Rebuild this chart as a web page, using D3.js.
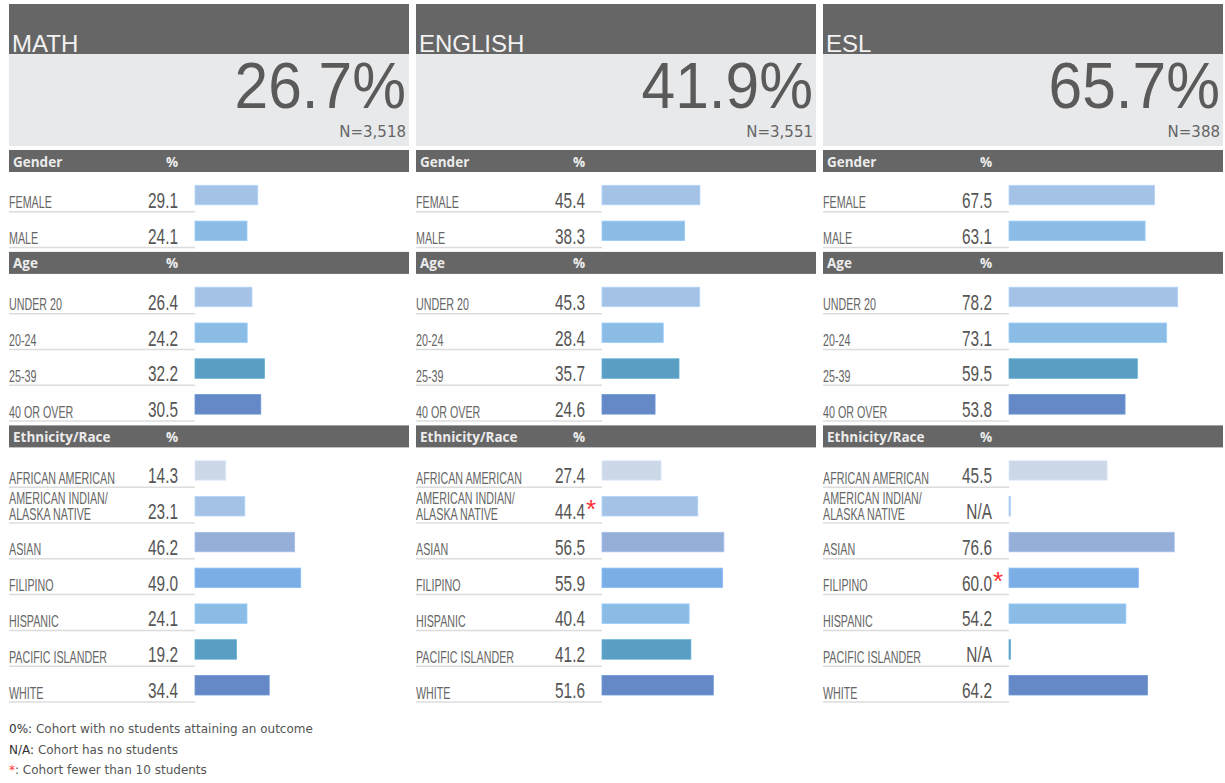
<!DOCTYPE html>
<html lang="en">
<head>
    <meta charset="UTF-8">
    <title>Outcome Rates</title>
    <script src="https://cdn.jsdelivr.net/npm/d3@7"></script>
    <style>
        body { margin: 0; background: #ffffff; }
        text { font-family: "Liberation Sans", Arial, sans-serif; }
    </style>
</head>
<body>
    <div id="chart-space"></div>

    <script>
        // ---- data ----
        var subjects = ["MATH", "ENGLISH", "ESL"];
        var overallRate = [26.7, 41.9, 65.7];
        var cohortN = [3518, 3551, 388];

        var genderCats = ["FEMALE", "MALE"];
        var ageCats = ["UNDER 20", "20-24", "25-39", "40 OR OVER"];
        var ethCats = ["AFRICAN AMERICAN", "AMERICAN INDIAN/\nALASKA NATIVE", "ASIAN", "FILIPINO",
                       "HISPANIC", "PACIFIC ISLANDER", "WHITE"];

        var mathGender = [29.1, 24.1];
        var mathAge = [26.4, 24.2, 32.2, 30.5];
        var mathEth = [14.3, 23.1, 46.2, 49.0, 24.1, 19.2, 34.4];

        var englishGender = [45.4, 38.3];
        var englishAge = [45.3, 28.4, 35.7, 24.6];
        var englishEth = [27.4, 44.4, 56.5, 55.9, 40.4, 41.2, 51.6];

        var eslGender = [67.5, 63.1];
        var eslAge = [78.2, 73.1, 59.5, 53.8];
        var eslEth = [45.5, null, 76.6, 60.0, 54.2, null, 64.2];   // null = N/A

        // cohorts with fewer than 10 students (flag per ethnicity row)
        var mathEthSmall = [false, false, false, false, false, false, false];
        var englishEthSmall = [false, true, false, false, false, false, false];
        var eslEthSmall = [false, false, false, true, false, false, false];

        var genderColors = ["#a4c2e6", "#8bbce6"];
        var ageColors = ["#a4c2e6", "#8bbce6", "#5a9ec4", "#6489c6"];
        var ethColors = ["#ccd7e8", "#a4c2e6", "#95afd9", "#7aaee4", "#8bbce6", "#5a9ec4", "#6489c6"];

        // ---- layout ----
        var width = 1225, height = 783;
        var panelW = 400, panelStep = 407, panelLeft = 9;
        var hdrH = 22, rowH = 35.8;

        var svg = d3.select("#chart-space").append("svg")
            .attr("width", width).attr("height", height);

        var xScale = d3.scaleLinear().domain([0, 100]).range([0, 215.7]);
        var barX = 186;

        var sections = [
            {title: "Gender", cats: genderCats, colors: genderColors,
             vals: [mathGender, englishGender, eslGender], small: [null, null, null]},
            {title: "Age", cats: ageCats, colors: ageColors,
             vals: [mathAge, englishAge, eslAge], small: [null, null, null]},
            {title: "Ethnicity/Race", cats: ethCats, colors: ethColors,
             vals: [mathEth, englishEth, eslEth], small: [mathEthSmall, englishEthSmall, eslEthSmall]}
        ];
        // vertical position of each section header
        var sectionTop = 150;
        sections.forEach(function(s) {
            s.top = sectionTop;
            sectionTop += hdrH + 4 + s.cats.length * rowH + 4.3;
        });

        function squeeze(sel, x, y, k) {
            sel.attr("transform", "translate(" + x + "," + y + ") scale(" + k + ",1)");
        }

        subjects.forEach(function(subj, p) {
            var g = svg.append("g")
                .attr("transform", "translate(" + (panelLeft + p * panelStep) + ",0)");

            // header
            g.append("rect").attr("x", 0).attr("y", 4).attr("width", panelW).attr("height", 50)
                .attr("fill", "#666666");
            g.append("rect").attr("x", 0).attr("y", 54).attr("width", panelW).attr("height", 92)
                .attr("fill", "#e8e9ea");
            g.append("text").attr("x", 3).attr("y", 52).text(subj)
                .attr("font-size", 24).attr("fill", "#f2f2f2");
            g.append("text").attr("x", 0).attr("y", 0).attr("text-anchor", "end")
                .text(overallRate[p].toFixed(1) + "%")
                .attr("font-size", 64).attr("fill", "#5a5a5a")
                .call(squeeze, 397, 108, 0.945);
            g.append("text").attr("x", 397).attr("y", 137).attr("text-anchor", "end")
                .text("N=" + d3.format(",")(cohortN[p]))
                .style("font-family", "DejaVu Sans").attr("font-size", 15).attr("fill", "#666");

            sections.forEach(function(s) {
                g.append("rect").attr("x", 0).attr("y", s.top).attr("width", panelW).attr("height", hdrH)
                    .attr("fill", "#666666");
                g.append("text").attr("x", 4).attr("y", s.top + 16.5).text(s.title)
                    .style("font-family", "Open Sans").attr("font-weight", "bold")
                    .attr("font-size", 13.5).attr("fill", "#ececec");
                g.append("text").attr("x", 157).attr("y", s.top + 16.5).text("%")
                    .style("font-family", "Open Sans").attr("font-weight", "bold")
                    .attr("font-size", 13.5).attr("fill", "#ececec");

                var y0 = s.top + hdrH + 4;
                var yScale = d3.scaleBand().domain(s.cats)
                    .range([y0, y0 + s.cats.length * rowH]);
                var bw = yScale.bandwidth();

                var rows = s.cats.map(function(c, i) {
                    return {cat: c, value: s.vals[p][i], color: s.colors[i],
                            small: s.small[p] ? s.small[p][i] : false};
                });

                var row = g.selectAll(null).data(rows).join("g")
                    .attr("transform", function(d) { return "translate(0," + (yScale(d.cat) + bw) + ")"; });

                row.append("line").attr("x1", 0).attr("x2", barX).attr("y1", 0).attr("y2", 0)
                    .attr("stroke", "#dcdcdc").attr("stroke-width", 1.5);

                row.append("rect")
                    .attr("x", barX).attr("y", -26.5)
                    .attr("width", function(d) { return d.value == null ? 1.5 : xScale(d.value); })
                    .attr("height", 19.5)
                    .attr("fill", function(d) { return d.color; })
                    .attr("stroke", function(d) { return d3.color(d.color).brighter(0.25); })
                    .attr("stroke-width", 0.8);

                // category labels (one or two lines)
                row.each(function(d) {
                    var r = d3.select(this);
                    var lines = d.cat.split("\n");
                    lines.forEach(function(l, li) {
                        var yy = lines.length === 1 ? -3.5 : (li === 0 ? -19 : -3.5);
                        r.append("text").attr("x", 0).attr("y", 0).text(l)
                            .attr("font-size", 16).attr("fill", "#666")
                            .call(squeeze, 0, yy, 0.67);
                    });
                    r.append("text").attr("x", 0).attr("y", 0).attr("text-anchor", "end")
                        .text(d.value == null ? "N/A" : d.value.toFixed(1))
                        .attr("font-size", 22).attr("fill", "#555")
                        .call(squeeze, 169, -4, 0.7);
                    if (d.small) {
                        r.append("text").attr("x", 170).attr("y", -5).text("*")
                            .attr("font-size", 26).attr("fill", "#ff3030");
                    }
                });
            });
        });

        // footnotes
        var notes = [["0%:", " Cohort with no students attaining an outcome", "#333"],
                     ["N/A:", " Cohort has no students", "#333"],
                     ["*", ": Cohort fewer than 10 students", "#ff3030"]];
        var noteY = d3.scalePoint().domain(d3.range(notes.length)).range([733, 774]);
        notes.forEach(function(n, i) {
            var t = svg.append("text").attr("x", 9).attr("y", noteY(i))
                .style("font-family", "DejaVu Sans").attr("font-size", 12);
            t.append("tspan").text(n[0]).attr("fill", n[2]);
            t.append("tspan").text(n[1]).attr("fill", "#555");
        });
    </script>
</body>
</html>
